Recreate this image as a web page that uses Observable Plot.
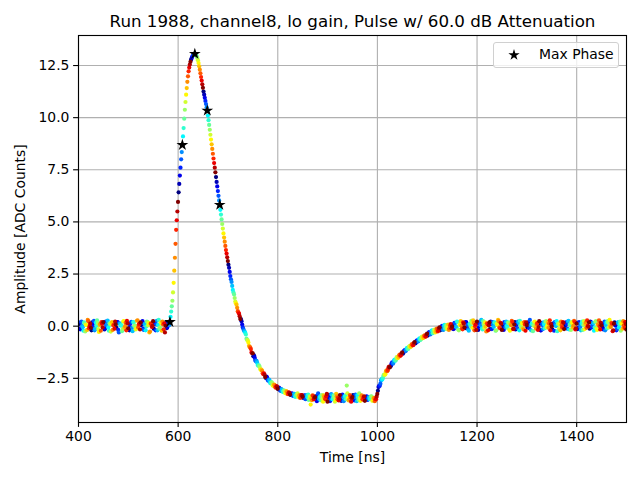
<!DOCTYPE html>
<html>
<head>
<meta charset="utf-8">
<script src="https://cdn.jsdelivr.net/npm/d3@7"></script>
<script src="https://cdn.jsdelivr.net/npm/@observablehq/plot@0.6"></script>
<style>
  html, body { margin: 0; padding: 0; background: #fff; }
  #wrap { position: relative; width: 640px; height: 480px; font-family: "DejaVu Sans", sans-serif; }
  #legend { position: absolute; left: 493px; top: 42px; width: 124px; height: 24px;
    border: 1px solid #d0d0d0; border-radius: 3px; background: rgba(255,255,255,0.8);
    font-size: 13.9px; color: #000; }
  #legend svg { position: absolute; left: 14px; top: 6px; }
  #legend span { position: absolute; left: 45px; top: 3px; white-space: nowrap; }
</style>
</head>
<body>
<div id="wrap"></div>
<script>
// ---- data ----
const title = "Run 1988, channel8, lo gain, Pulse w/ 60.0 dB Attenuation";
const xLabel = "Time [ns]";
const yLabel = "Amplitude [ADC Counts]";
const legendLabel = "Max Phase";

const xTicks = [400, 600, 800, 1000, 1200, 1400];
const yTicks = [-2.5, 0, 2.5, 5, 7.5, 10, 12.5];

// sample start times (ns), one per 25 ns sample
const sampleTimes = [401, 426, 451, 476, 501, 526, 551, 576, 601, 626, 651, 676, 701, 726, 751,
  776, 801, 826, 851, 876, 901, 926, 951, 976, 1001, 1026, 1051, 1076, 1101, 1126, 1151,
  1176, 1201, 1226, 1251, 1276, 1301, 1326, 1351, 1376, 1401, 1426, 1451, 1476];

// phase set A: offsets within a sample (ns) and phase value (colour)
const phaseOffsetsA = [0, 2.5, 5, 7.5, 10, 12.5, 15, 17.5, 20, 22.5];
const phaseValuesA = [0.0, 0.105, 0.21, 0.316, 0.421, 0.526, 0.632, 0.737, 0.842, 0.947];
// phase set B (interleaved phases)
const phaseOffsetsB = [1.25, 3.75, 6.25, 8.75, 11.25, 13.75, 16.25, 18.75, 21.25, 23.75];
const phaseValuesB = [0.053, 0.158, 0.263, 0.368, 0.474, 0.579, 0.684, 0.789, 0.895, 1.0];

// amplitude [ADC counts] per sample (rows) and phase (columns), set A
const amplitudesA = [
  [0.1, -0.15, 0.22, -0.05, 0.18, -0.25, 0.05, 0.3, -0.1, 0.12],
  [-0.2, 0.08, 0.25, -0.12, 0.02, 0.15, -0.28, 0.1, 0.2, -0.06],
  [0.16, -0.1, 0.04, 0.27, -0.22, 0.09, 0.13, -0.18, 0.06, 0.22],
  [-0.08, 0.2, -0.3, 0.11, 0.05, -0.14, 0.24, 0.0, -0.2, 0.14],
  [0.12, -0.05, 0.21, -0.24, 0.18, 0.03, -0.12, 0.28, 0.07, -0.16],
  [0.05, 0.24, -0.18, 0.1, -0.02, 0.2, 0.15, -0.26, 0.12, 0.02],
  [-0.12, 0.18, 0.08, -0.2, 0.3, -0.06, 0.14, 0.22, -0.15, -0.3],
  [0.16, -0.04, 0.08, 0.2, 0.7, 1.22, 2.08, 3.28, 4.62, 5.5],
  [6.42, 7.22, 8.0, 8.69, 9.5, 10.38, 11.1, 11.72, 12.22, 12.55],
  [12.78, 12.93, 13.02, 13.06, 13.0, 12.86, 12.62, 12.3, 11.95, 11.6],
  [11.25, 10.95, 10.65, 10.34, 9.88, 9.42, 8.95, 8.5, 8.04, 7.6],
  [7.15, 6.7, 6.25, 5.82, 5.35, 4.9, 4.45, 4.05, 3.65, 3.3],
  [2.95, 2.6, 2.25, 1.93, 1.62, 1.35, 1.1, 0.88, 0.66, 0.48],
  [0.34, 0.08, -0.14, -0.26, -0.4, -0.66, -0.78, -1.0, -1.1, -1.3],
  [-1.44, -1.5, -1.68, -1.74, -1.9, -1.95, -2.1, -2.14, -2.3, -2.33],
  [-2.48, -2.46, -2.62, -2.6, -2.75, -2.72, -2.86, -2.82, -2.95, -2.9],
  [-3.02, -2.98, -3.1, -3.05, -3.16, -3.1, -3.22, -3.15, -3.26, -3.2],
  [-3.3, -3.22, -3.35, -3.24, -3.38, -3.27, -3.4, -3.3, -3.42, -3.31],
  [-3.44, -3.32, -3.5, -3.36, -3.28, -3.46, -3.76, -3.55, -3.34, -3.42],
  [-3.36, -3.6, -3.22, -3.52, -3.42, -3.3, -3.62, -3.4, -3.5, -3.25],
  [-3.44, -3.38, -3.5, -3.3, -3.46, -3.4, -3.54, -3.36, -3.42, -3.48],
  [-3.34, -3.5, -3.4, -3.46, -3.32, -2.85, -3.44, -3.52, -3.38, -3.46],
  [-3.3, -3.56, -3.28, -3.6, -3.42, -3.22, -3.58, -3.32, -3.52, -3.36],
  [-3.46, -3.36, -3.52, -3.42, -3.48, -3.38, -3.55, -3.44, -3.5, -3.38],
  [-3.1, -2.86, -2.76, -2.54, -2.48, -2.32, -2.3, -2.12, -2.1, -1.94],
  [-1.94, -1.78, -1.8, -1.64, -1.66, -1.5, -1.53, -1.4, -1.42, -1.3],
  [-1.32, -1.18, -1.2, -1.08, -1.1, -0.98, -1.0, -0.88, -0.92, -0.8],
  [-0.83, -0.7, -0.74, -0.62, -0.66, -0.54, -0.58, -0.48, -0.5, -0.4],
  [-0.45, -0.3, -0.4, -0.22, -0.34, -0.2, -0.3, -0.14, -0.25, -0.1],
  [-0.2, -0.05, -0.15, 0.0, -0.12, 0.05, -0.08, -0.18, 0.02, -0.1],
  [0.08, -0.12, 0.15, -0.05, 0.2, -0.2, 0.1, 0.02, -0.15, 0.12],
  [-0.1, 0.18, 0.05, -0.22, 0.12, 0.26, -0.08, 0.15, 0.0, -0.18],
  [0.14, -0.06, 0.22, 0.3, -0.16, 0.08, 0.18, -0.25, 0.1, 0.04],
  [-0.14, 0.1, 0.2, -0.04, 0.16, -0.2, 0.06, 0.24, -0.1, 0.12],
  [0.06, -0.18, 0.12, 0.22, -0.08, 0.15, -0.22, 0.04, 0.2, -0.12],
  [0.2, 0.04, -0.1, 0.16, 0.26, -0.05, 0.12, -0.16, 0.08, 0.18],
  [-0.06, 0.14, 0.3, -0.2, 0.1, 0.02, 0.22, -0.12, 0.15, -0.04],
  [0.12, -0.2, 0.06, 0.18, -0.1, 0.24, 0.04, -0.08, 0.28, 0.1],
  [-0.15, 0.08, 0.2, 0.0, -0.24, 0.14, 0.1, 0.22, -0.06, 0.16],
  [0.04, 0.18, -0.12, 0.26, 0.08, -0.18, 0.15, 0.02, 0.2, -0.1],
  [0.16, -0.08, 0.1, -0.2, 0.22, 0.06, -0.14, 0.18, 0.28, -0.02],
  [-0.12, 0.2, 0.04, 0.14, -0.06, 0.24, -0.18, 0.1, 0.0, 0.16],
  [0.1, -0.16, 0.22, 0.06, -0.1, 0.16, 0.3, -0.04, 0.12, -0.2],
  [0.18, 0.02, -0.14, 0.2, 0.08, -0.22, 0.14, 0.24, -0.08, 0.1]
];

// set B
const amplitudesB = [
  [-0.12, 0.2, 0.02, -0.22, 0.14, 0.08, -0.18, 0.24, 0.0, -0.08],
  [0.18, -0.06, -0.2, 0.16, 0.28, -0.14, 0.06, -0.22, 0.12, 0.2],
  [-0.16, 0.22, 0.1, -0.06, 0.14, -0.26, 0.2, 0.04, -0.12, 0.08],
  [0.2, -0.18, 0.14, 0.02, -0.24, 0.22, -0.08, 0.16, 0.26, -0.1],
  [-0.2, 0.14, -0.08, 0.2, 0.0, -0.16, 0.26, -0.06, 0.12, 0.18],
  [0.16, -0.12, 0.1, -0.2, 0.22, 0.04, -0.3, 0.12, -0.04, 0.24],
  [0.1, -0.2, 0.26, 0.06, -0.12, 0.18, -0.22, 0.08, 0.14, 0.02],
  [-0.1, 0.12, 0.05, 0.45, 0.95, 1.62, 2.66, 3.95, 5.08, 5.96],
  [6.82, 7.6, 8.35, 9.1, 9.95, 10.75, 11.42, 11.98, 12.4, 12.68],
  [12.86, 12.98, 13.05, 13.04, 12.94, 12.75, 12.46, 12.13, 11.78, 11.43],
  [11.1, 10.8, 10.5, 10.1, 9.65, 9.18, 8.72, 8.27, 7.82, 7.38],
  [6.92, 6.48, 6.03, 5.58, 5.12, 4.68, 4.25, 3.85, 3.48, 3.12],
  [2.8, 2.4, 2.12, 1.74, 1.52, 1.18, 1.03, 0.72, 0.6, 0.34],
  [0.24, -0.06, -0.22, -0.32, -0.6, -0.68, -0.94, -1.02, -1.26, -1.3],
  [-1.4, -1.62, -1.66, -1.86, -1.88, -2.06, -2.08, -2.26, -2.26, -2.44],
  [-2.42, -2.58, -2.56, -2.72, -2.68, -2.84, -2.8, -2.92, -2.88, -3.0],
  [-2.95, -3.08, -3.02, -3.14, -3.08, -3.2, -3.12, -3.25, -3.18, -3.28],
  [-3.24, -3.32, -3.26, -3.38, -3.3, -3.22, -3.36, -3.44, -3.3, -3.38],
  [-3.38, -3.48, -3.3, -3.42, -3.54, -3.36, -3.46, -3.32, -3.5, -3.4],
  [-3.5, -3.34, -3.44, -3.38, -3.56, -3.46, -3.32, -3.48, -3.36, -3.62],
  [-3.3, -3.6, -3.26, -3.5, -3.32, -3.62, -3.24, -3.5, -3.56, -3.3],
  [-3.58, -3.28, -3.6, -3.36, -3.5, -3.22, -3.56, -3.3, -3.62, -3.4],
  [-3.36, -3.46, -3.42, -3.3, -3.54, -3.44, -3.36, -3.5, -3.4, -3.58],
  [-3.42, -3.54, -3.4, -3.5, -3.36, -3.58, -3.46, -3.6, -3.5, -3.25],
  [-2.92, -2.86, -2.6, -2.56, -2.36, -2.34, -2.16, -2.16, -1.98, -1.98],
  [-1.9, -1.74, -1.76, -1.6, -1.62, -1.48, -1.5, -1.36, -1.4, -1.26],
  [-1.28, -1.15, -1.18, -1.04, -1.08, -0.95, -0.98, -0.86, -0.9, -0.76],
  [-0.8, -0.68, -0.72, -0.58, -0.64, -0.5, -0.56, -0.44, -0.5, -0.36],
  [-0.38, -0.28, -0.36, -0.2, -0.3, -0.16, -0.26, -0.12, -0.22, -0.06],
  [-0.12, 0.02, -0.18, 0.06, -0.04, -0.14, 0.08, -0.1, 0.1, -0.02],
  [-0.14, 0.16, -0.02, 0.22, -0.16, 0.06, 0.24, -0.1, 0.18, -0.06],
  [0.2, -0.06, -0.16, 0.1, -0.02, 0.16, 0.28, -0.2, 0.08, 0.22],
  [-0.18, 0.12, 0.04, -0.1, 0.24, -0.08, -0.02, 0.14, -0.2, 0.18],
  [0.22, -0.14, 0.08, 0.18, -0.22, 0.12, 0.3, -0.06, 0.16, -0.18],
  [-0.1, 0.2, -0.06, 0.02, 0.18, -0.16, 0.1, 0.26, -0.14, 0.08],
  [-0.16, 0.12, 0.22, -0.2, 0.04, 0.16, -0.1, 0.2, -0.22, 0.06],
  [0.18, -0.1, 0.04, 0.12, -0.24, 0.2, -0.04, 0.1, -0.18, 0.24],
  [-0.2, 0.16, -0.14, 0.08, 0.2, -0.06, 0.18, 0.12, -0.2, -0.02],
  [0.12, -0.22, 0.06, 0.24, 0.1, -0.1, -0.2, 0.06, 0.2, -0.14],
  [-0.08, 0.1, 0.22, -0.16, 0.04, 0.2, -0.06, 0.26, -0.16, 0.12],
  [-0.14, 0.2, -0.04, 0.12, -0.18, 0.24, 0.1, -0.08, 0.02, 0.18],
  [0.22, -0.06, 0.16, -0.22, 0.2, -0.1, 0.08, 0.28, -0.16, 0.04],
  [-0.08, 0.14, -0.2, 0.18, 0.24, -0.06, 0.02, 0.16, -0.24, 0.12],
  [0.06, -0.2, 0.16, -0.06, 0.22, 0.12, -0.12, 0.04, 0.2, -0.16]
];

// max-phase markers
const maxPhaseTimes = [583.5, 608.5, 633.5, 658.5, 683.5];
const maxPhaseAmps = [0.2, 8.69, 13.06, 10.34, 5.82];

// jet colormap stops
const jetStops = [0, 0.125, 0.375, 0.625, 0.875, 1];
const jetColors = ["#000080", "#0000ff", "#00ffff", "#ffff00", "#ff0000", "#800000"];

// ---- build tables ----
const points = [];
function addSet(offsets, values, amps) {
  offsets.forEach((off, p) => {
    sampleTimes.forEach((t, s) => {
      points.push({time: t + off, amp: amps[s][p], phase: values[p]});
    });
  });
}
addSet(phaseOffsetsA, phaseValuesA, amplitudesA);
addSet(phaseOffsetsB, phaseValuesB, amplitudesB);
points.sort((a, b) => a.phase - b.phase);
const stars = maxPhaseTimes.map((t, i) => ({time: t, amp: maxPhaseAmps[i]}));

const fmtY = d => d.toFixed(1).replace("-", "\u2212");
const fmtX = d => String(d);
const FS = 13.9;
const LW = 1.11;

const chart = Plot.plot({
  width: 640,
  height: 480,
  marginLeft: 78,
  marginRight: 14,
  marginTop: 35,
  marginBottom: 58,
  style: {fontFamily: "DejaVu Sans, sans-serif", fontSize: FS + "px", background: "white", color: "black"},
  x: {domain: [400, 1500]},
  y: {domain: [-4.62, 13.94]},
  color: {type: "linear", domain: jetStops, range: jetColors, interpolate: "rgb"},
  marks: [
    Plot.gridX(xTicks, {stroke: "#b0b0b0", strokeOpacity: 1, strokeWidth: LW}),
    Plot.gridY(yTicks, {stroke: "#b0b0b0", strokeOpacity: 1, strokeWidth: LW}),
    Plot.dot(points, {x: "time", y: "amp", fill: "phase", r: 2.1, clip: true}),
    Plot.dot(stars, {x: "time", y: "amp", symbol: "star", fill: "black", r: 3.7, clip: true}),
    Plot.frame({stroke: "black", strokeWidth: LW}),
    Plot.axisX(xTicks, {tickSize: 4.9, tickPadding: 4.2, fontSize: FS, label: null, tickFormat: fmtX, strokeWidth: LW}),
    Plot.axisY(yTicks, {tickSize: 4.9, tickPadding: 4.2, fontSize: FS, label: null, tickFormat: fmtY, strokeWidth: LW}),
    Plot.text([title], {text: d => d, frameAnchor: "top", dy: -14, fontSize: 16.7, lineAnchor: "middle"}),
    Plot.text([xLabel], {text: d => d, frameAnchor: "bottom", dy: 35, fontSize: FS, lineAnchor: "middle"}),
    Plot.text([yLabel], {text: d => d, frameAnchor: "left", dx: -58, rotate: -90, fontSize: FS, textAnchor: "middle", lineAnchor: "middle"})
  ]
});

const wrap = document.getElementById("wrap");
wrap.appendChild(chart);

// legend (HTML overlay)
const legend = document.createElement("div");
legend.id = "legend";
const starPath = d3.symbol(d3.symbolStar, 40)();
legend.innerHTML = `<svg width="12" height="12" viewBox="-6 -6 12 12"><path d="${starPath}" fill="black"/></svg><span>${legendLabel}</span>`;
wrap.appendChild(legend);
</script>
</body>
</html>
